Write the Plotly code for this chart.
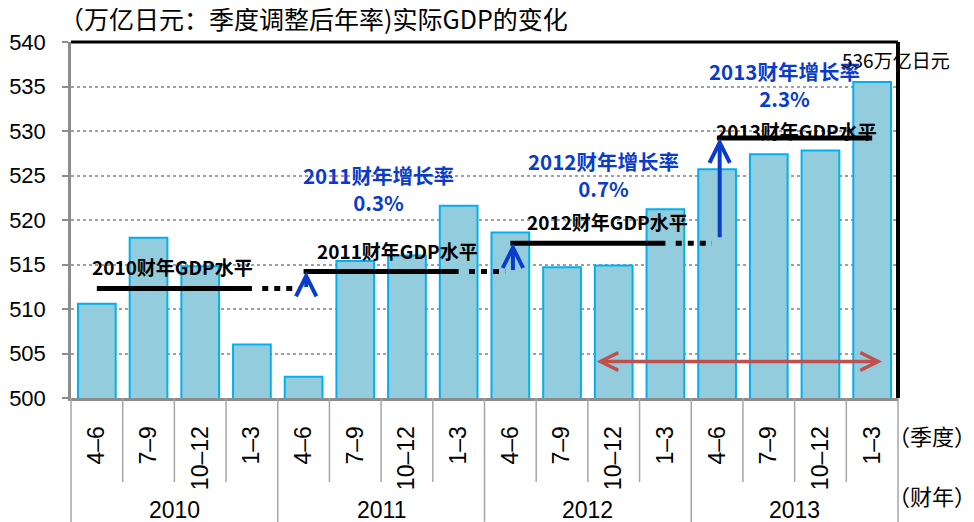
import plotly.graph_objects as go

# data
quarters = ["4–6", "7–9", "10–12", "1–3"] * 4
fiscal_years = ["2010", "2011", "2012", "2013"]
gdp = [510.6, 518.0, 514.8, 506.0,
       502.4, 515.4, 516.0, 521.6,
       518.6, 514.7, 514.9, 521.2,
       525.7, 527.4, 527.8, 535.5]
fy_level = [512.3, 514.2, 517.4, 529.2]
fy_growth = ["0.3%", "0.7%", "2.3%"]

CJK = "Noto Sans CJK SC"
LAT = "Liberation Sans"
BLUE = "#0A3CCB"
GREY = "#8C8C8C"

fig = go.Figure()

fig.add_trace(go.Bar(
    x=list(range(len(gdp))), y=gdp, width=0.73,
    marker=dict(color="#93CDDD", line=dict(color="#00B0F0", width=2)),
    hoverinfo="x+y",
))

# fiscal-year level lines and dotted continuation
for k, lvl in enumerate(fy_level):
    fig.add_trace(go.Scatter(
        x=[4 * k, 4 * k + 3], y=[lvl, lvl], mode="lines",
        line=dict(color="black", width=5), hoverinfo="skip",
    ))
    if k < 3:
        fig.add_trace(go.Scatter(
            x=[4 * k + 3.2, 4 * k + 3.9], y=[lvl, lvl], mode="lines",
            line=dict(color="black", width=5, dash="6px,6px"), hoverinfo="skip",
        ))

annotations = []

# level labels
label_pos = [(1.47, 2.45), (5.82, 2.4), (9.87, 2.4), (13.53, 0.9)]
for k, lvl in enumerate(fy_level):
    dx, dy = label_pos[k]
    annotations.append(dict(
        x=dx, y=lvl + dy, xref="x", yref="y", showarrow=False,
        xanchor="center", yanchor="middle",
        text=f"<b>{fiscal_years[k]}财年GDP水平</b>",
        font=dict(family=CJK, size=19, color="black"),
    ))

# growth arrows
arrow_from = [fy_level[0], fy_level[1], fy_level[2] + 0.5]
for k in range(3):
    annotations.append(dict(
        x=4 * (k + 1) + 0.05, y=fy_level[k + 1], ax=4 * (k + 1) + 0.05, ay=arrow_from[k],
        xref="x", yref="y", axref="x", ayref="y", text="",
        showarrow=True, arrowhead=5, arrowsize=1.0, arrowwidth=4, arrowcolor=BLUE,
    ))

# growth labels
growth_pos = [(5.44, 524.9), (9.8, 526.5), (13.3, 536.6)]
for k, g in enumerate(fy_growth):
    gx, gy = growth_pos[k]
    annotations.append(dict(
        x=gx, y=gy, xref="x", yref="y", showarrow=False,
        xanchor="center", yanchor="top",
        text=f"<b>{fiscal_years[k + 1]}财年增长率<br>{g}</b>",
        font=dict(family=CJK, size=20.5, color=BLUE), align="center",
        yshift=18,
    ))

# red double arrow
annotations.append(dict(
    x=15.19, y=504.1, ax=9.64, ay=504.1, xref="x", yref="y", axref="x", ayref="y",
    text="", showarrow=True, arrowhead=5, startarrowhead=5, arrowside="end+start",
    arrowsize=1.0, startarrowsize=1.0, arrowwidth=3.5, arrowcolor="#C0504D",
))

annotations.append(dict(
    x=15.46, y=538.0, xref="x", yref="y", showarrow=False,
    xanchor="center", yanchor="middle",
    text=f"{round(gdp[-1])}万亿日元", font=dict(family=CJK, size=19, color="black"),
))

# title and unit
annotations.append(dict(
    x=-0.017, y=1.068, xref="paper", yref="paper", xanchor="left", yanchor="middle",
    showarrow=False,
    text="（万亿日元：季度调整后年率)实际GDP的变化",
    font=dict(family=CJK, size=25, color="black"),
))

# fiscal year labels under the axis
for k, fy in enumerate(fiscal_years):
    annotations.append(dict(
        x=(4 * k + 2) / 16, y=-0.316, xref="paper", yref="paper", showarrow=False,
        xanchor="center", yanchor="middle",
        text=fy, font=dict(family=LAT, size=23, color="black"),
    ))

annotations.append(dict(
    x=1.041, y=-0.104, xref="paper", yref="paper", showarrow=False,
    xanchor="center", yanchor="middle",
    text="（季度）", font=dict(family=CJK, size=22, color="black"),
))
annotations.append(dict(
    x=1.041, y=-0.272, xref="paper", yref="paper", showarrow=False,
    xanchor="center", yanchor="middle",
    text="（财年）", font=dict(family=CJK, size=22, color="black"),
))

shapes = []
for i in range(17):
    shapes.append(dict(
        type="line", xref="paper", yref="paper", x0=i / 16, x1=i / 16,
        y0=0, y1=-0.348 if i % 4 == 0 else -0.236,
        line=dict(color="#A6A6A6", width=1.5),
    ))
shapes.append(dict(type="line", xref="paper", yref="paper", x0=0, x1=1, y0=1, y1=1,
                   line=dict(color="black", width=3)))
shapes.append(dict(type="line", xref="paper", yref="paper", x0=1, x1=1, y0=0, y1=1,
                   line=dict(color="black", width=4)))

# page body adds an 8px offset, so the figure is a bit smaller and margins shifted
fig.update_layout(
    width=966, height=514,
    margin=dict(l=63, r=76, t=34, b=124),
    paper_bgcolor="white", plot_bgcolor="white",
    showlegend=False,
    annotations=annotations, shapes=shapes,
    xaxis=dict(
        range=[-0.5, 15.5], tickvals=list(range(16)), ticktext=quarters,
        tickangle=-90, tickfont=dict(family=LAT, size=23, color="black"),
        ticks="", ticklabelstandoff=16, showgrid=False, zeroline=False,
        showline=True, linecolor=GREY, linewidth=3, automargin=False,
    ),
    yaxis=dict(
        range=[500, 540], dtick=5, tickfont=dict(family=LAT, size=22, color="black"),
        ticks="outside", ticklen=6, tickcolor=GREY, tickwidth=1.5,
        ticklabelstandoff=12, automargin=False,
        showgrid=True, gridcolor="#A0A0A0", griddash="dot", gridwidth=1.5,
        zeroline=False, showline=True, linecolor=GREY, linewidth=2.5,
    ),
)

fig.write_html("out.html")
